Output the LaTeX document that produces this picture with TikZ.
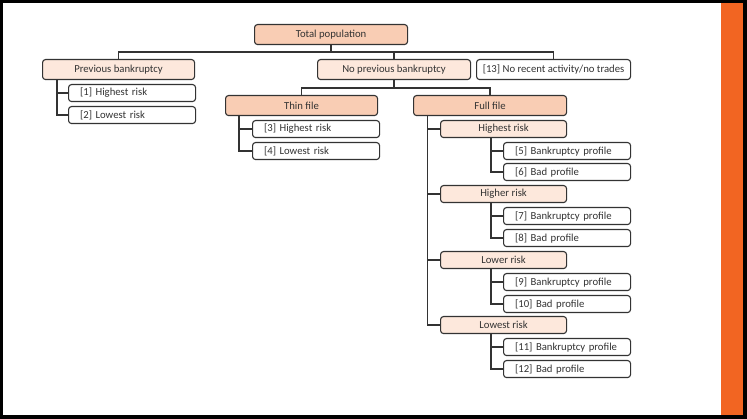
\documentclass[tikz,border=0pt]{standalone}
\usepackage{fontspec}
\setmainfont{Carlito}
\definecolor{peachD}{HTML}{F9CDB4}
\definecolor{peachL}{HTML}{FDE8DC}
\definecolor{linec}{HTML}{333333}
\definecolor{txt}{HTML}{333333}
\definecolor{orangebar}{HTML}{F26522}
\begin{document}
\begin{tikzpicture}[x=1pt,y=-1pt,
  box/.style={draw=linec, line width=1.1pt, rounded corners=3pt, anchor=north west,
    inner sep=0pt, text=txt, font=\fontsize{10.7}{12}\selectfont},
  big/.style={box, minimum width=#1, minimum height=20pt},
  small/.style={box, minimum width=#1, minimum height=17pt},
  leaf/.style={box, fill=white, minimum height=17pt, text width=104pt, inner xsep=11.5pt, align=left},
  conn/.style={draw=linec, line width=1.3pt}
]
\useasboundingbox (0,0) rectangle (747,419);
\fill[black] (0,0) rectangle (747,419);
\fill[white] (3,3) rectangle (743,415);
\fill[orangebar] (721,3) rectangle (743,415);

% level 0/1
\node[big=153pt, fill=peachD] (tp) at (254,24) {Total population};
\node[big=152pt, fill=peachL] (pb) at (42,59) {Previous bankruptcy};
\node[big=153pt, fill=peachL] (npb) at (317,59) {No previous bankruptcy};
\node[big=154pt, fill=white] (n13) at (476,59) {[13] No recent activity/no trades};
% previous bankruptcy leaves
\node[leaf] (c1) at (68,84) {[1] Highest risk};
\node[leaf] (c2) at (68,106) {[2] Lowest risk};
% level 2
\node[big=152pt, fill=peachD] (thin) at (225,95) {Thin file};
\node[big=153pt, fill=peachD] (full) at (413,95) {Full file};
\node[leaf] (c3) at (252,120) {[3] Highest risk};
\node[leaf] (c4) at (252,142) {[4] Lowest risk};
% risk groups
\node[small=126pt, fill=peachL] (r1) at (440,120) {Highest risk};
\node[leaf] (c5) at (503,142) {[5] Bankruptcy profile};
\node[leaf] (c6) at (503,163) {[6] Bad profile};
\node[small=126pt, fill=peachL] (r2) at (440,185) {Higher risk};
\node[leaf] (c7) at (503,207) {[7] Bankruptcy profile};
\node[leaf] (c8) at (503,229) {[8] Bad profile};
\node[small=126pt, fill=peachL] (r3) at (440,251) {Lower risk};
\node[leaf] (c9) at (503,273) {[9] Bankruptcy profile};
\node[leaf] (c10) at (503,295) {[10] Bad profile};
\node[small=126pt, fill=peachL] (r4) at (440,316) {Lowest risk};
\node[leaf] (c11) at (503,338) {[11] Bankruptcy profile};
\node[leaf] (c12) at (503,360) {[12] Bad profile};

% connectors
\draw[conn] (tp.south) -- ++(0,7) coordinate (bus);
\draw[conn] (pb.north) |- (bus) -| (n13.north);
\draw[conn] (npb.north) -- (npb.north |- bus);
\draw[conn] (npb.south) -- ++(0,8) coordinate (bus2);
\draw[conn] (thin.north) |- (bus2) -| (full.north);
\draw[conn] ([xshift=15pt]pb.south west) |- (c1.west);
\draw[conn] ([xshift=15pt]pb.south west) |- (c2.west);
\draw[conn] ([xshift=14pt]thin.south west) |- (c3.west);
\draw[conn] ([xshift=14pt]thin.south west) |- (c4.west);
\foreach \r in {r1,r2,r3,r4}
  \draw[conn] ([xshift=14.5pt]full.south west) |- (\r.west);
\draw[conn] ([xshift=51pt]r1.south west) |- (c5.west);
\draw[conn] ([xshift=51pt]r1.south west) |- (c6.west);
\draw[conn] ([xshift=51pt]r2.south west) |- (c7.west);
\draw[conn] ([xshift=51pt]r2.south west) |- (c8.west);
\draw[conn] ([xshift=51pt]r3.south west) |- (c9.west);
\draw[conn] ([xshift=51pt]r3.south west) |- (c10.west);
\draw[conn] ([xshift=51pt]r4.south west) |- (c11.west);
\draw[conn] ([xshift=51pt]r4.south west) |- (c12.west);
\end{tikzpicture}
\end{document}
